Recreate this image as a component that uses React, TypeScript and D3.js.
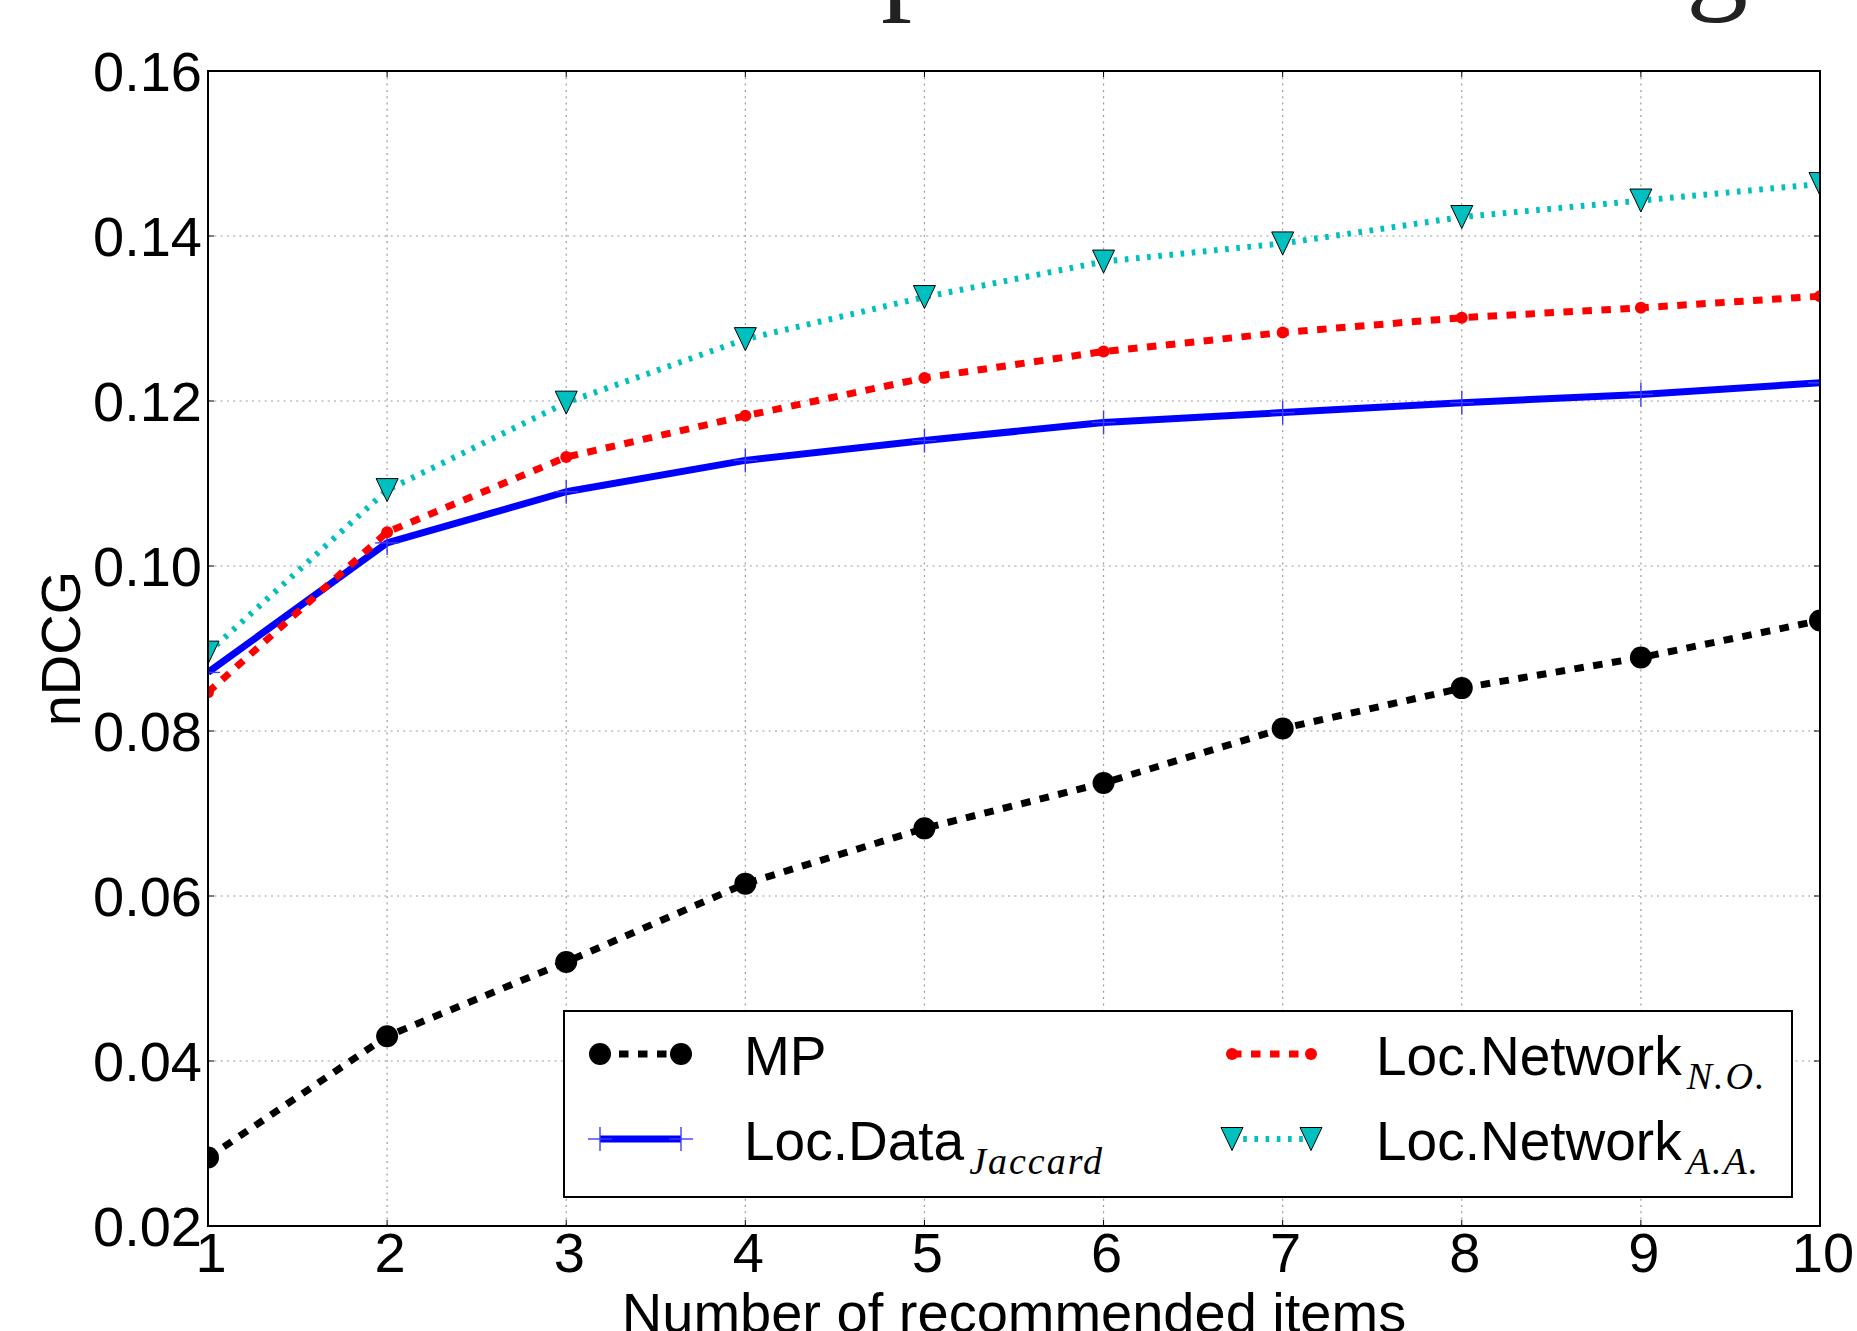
import React from 'react';
import * as d3 from 'd3';

// values
const items = [1, 2, 3, 4, 5, 6, 7, 8, 9, 10];
const mpValues = [0.0283, 0.043, 0.052, 0.0615, 0.0682, 0.0737, 0.0803, 0.0852, 0.0889, 0.0934];
const locDataJaccard = [0.0871, 0.1028, 0.109, 0.1128, 0.1152, 0.1174, 0.1186, 0.1198, 0.1208, 0.1222];
const locNetworkNO = [0.0847, 0.1041, 0.1132, 0.1182, 0.1228, 0.126, 0.1283, 0.1301, 0.1313, 0.1327];
const locNetworkAA = [0.0895, 0.1092, 0.1198, 0.1275, 0.1326, 0.1369, 0.1391, 0.1423, 0.1443, 0.1463];
const yTickValues = [0.02, 0.04, 0.06, 0.08, 0.1, 0.12, 0.14, 0.16];
const xTickValues = [1, 2, 3, 4, 5, 6, 7, 8, 9, 10];

const W = 1857;
const H = 1331;
const margin = { top: 71, right: 37, bottom: 105, left: 208 };
const sans = '"Liberation Sans", Arial, Helvetica, sans-serif';
const serif = '"Liberation Serif", "Times New Roman", serif';

type Series = {
  key: string;
  label: string;
  sub: string;
  values: number[];
  color: string;
  width: number;
  dash: string;
  marker: 'circle' | 'plus' | 'dot' | 'tri';
};

const series: Series[] = [
  { key: 'mp', label: 'MP', sub: '', values: mpValues, color: '#000000', width: 7, dash: '9.5,9.5', marker: 'circle' },
  { key: 'ld', label: 'Loc.Data', sub: 'Jaccard', values: locDataJaccard, color: '#0000ff', width: 7, dash: '', marker: 'plus' },
  { key: 'no', label: 'Loc.Network', sub: 'N.O.', values: locNetworkNO, color: '#ff0000', width: 7, dash: '9.5,9.5', marker: 'dot' },
  { key: 'aa', label: 'Loc.Network', sub: 'A.A.', values: locNetworkAA, color: '#00bfbf', width: 6, dash: '3.6,7.6', marker: 'tri' },
];

function Marker({ kind, x, y, color }: { kind: Series['marker']; x: number; y: number; color: string }) {
  if (kind === 'circle') return <circle cx={x} cy={y} r={11} fill={color} />;
  if (kind === 'dot') return <circle cx={x} cy={y} r={6} fill={color} />;
  if (kind === 'plus')
    return (
      <g stroke="#3c3cff" strokeWidth={1.4}>
        <line x1={x - 12} x2={x + 12} y1={y} y2={y} />
        <line x1={x} x2={x} y1={y - 12} y2={y + 12} />
      </g>
    );
  const pts = [
    [x - 11, y - 11.5],
    [x + 11, y - 11.5],
    [x, y + 11.5],
  ];
  return <polygon points={pts.map((p) => p.join(',')).join(' ')} fill={color} stroke="#000" strokeWidth={1} />;
}

export default function App() {
  const iw = W - margin.left - margin.right;
  const ih = H - margin.top - margin.bottom;
  const x = d3.scaleLinear().domain([1, 10]).range([margin.left, margin.left + iw]);
  const y = d3.scaleLinear().domain([0.02, 0.16]).range([margin.top + ih, margin.top]);
  const line = d3
    .line<number>()
    .x((_, i) => x(items[i]))
    .y((d) => y(d));

  const x0 = margin.left;
  const x1 = margin.left + iw;
  const y0 = margin.top + ih;
  const y1 = margin.top;

  // legend layout
  const lg = { x: 564, y: 1011, w: 1228, h: 186 };
  const rows = [1054, 1139];
  const cols = [
    { m0: 600, m1: 681, tx: 744 },
    { m0: 1232, m1: 1311, tx: 1376 },
  ];

  return (
    <svg
      width={W}
      height={H}
      style={{ position: 'absolute', left: 0, top: 0, display: 'block', background: '#fff' }}
    >
      <defs>
        <clipPath id="plotClip">
          <rect x={x0} y={y1} width={iw} height={ih} />
        </clipPath>
      </defs>
      <rect x={0} y={0} width={W} height={H} fill="#fff" />

      {/* title, cut off at the top of the picture */}
      <g fontFamily={serif} fontSize={124} fill="#222">
        <text x={881} y={-4}>p</text>
        <text x={1686} y={-4}>g</text>
      </g>

      {/* grid */}
      <g stroke="#9a9a9a" strokeWidth={1.2} strokeDasharray="2,4.3">
        {xTickValues.slice(1, -1).map((t) => (
          <line key={'gx' + t} x1={x(t)} x2={x(t)} y1={y1} y2={y0} />
        ))}
        {yTickValues.slice(1, -1).map((t) => (
          <line key={'gy' + t} x1={x0} x2={x1} y1={y(t)} y2={y(t)} />
        ))}
      </g>

      {/* series */}
      <g clipPath="url(#plotClip)">
        {series.map((s) => (
          <g key={s.key}>
            <path
              d={line(s.values) || ''}
              fill="none"
              stroke={s.color}
              strokeWidth={s.width}
              strokeDasharray={s.dash || undefined}
              strokeLinejoin="round"
            />
            {s.values.map((v, i) => (
              <Marker key={i} kind={s.marker} x={x(items[i])} y={y(v)} color={s.color} />
            ))}
          </g>
        ))}
      </g>

      {/* ticks (inward, all sides) */}
      <g stroke="#000" strokeWidth={1}>
        {xTickValues.map((t) => (
          <g key={'tx' + t}>
            <line x1={x(t)} x2={x(t)} y1={y0} y2={y0 - 6} />
            <line x1={x(t)} x2={x(t)} y1={y1} y2={y1 + 6} />
          </g>
        ))}
        {yTickValues.map((t) => (
          <g key={'ty' + t}>
            <line x1={x0} x2={x0 + 6} y1={y(t)} y2={y(t)} />
            <line x1={x1} x2={x1 - 6} y1={y(t)} y2={y(t)} />
          </g>
        ))}
      </g>

      {/* frame */}
      <rect x={x0} y={y1} width={iw} height={ih} fill="none" stroke="#000" strokeWidth={2} />

      {/* tick labels */}
      <g fontFamily={sans} fontSize={56} fill="#000">
        {xTickValues.map((t) => (
          <text key={'lx' + t} x={x(t) + 3} y={1272} textAnchor="middle">
            {t}
          </text>
        ))}
        {yTickValues.map((t) => (
          <text key={'ly' + t} x={202} y={y(t)} dy="0.36em" textAnchor="end">
            {d3.format('.2f')(t)}
          </text>
        ))}
      </g>

      {/* axis titles */}
      <text x={(x0 + x1) / 2} y={1332} textAnchor="middle" fontFamily={sans} fontSize={56} fill="#000">
        Number of recommended items
      </text>
      <text
        transform={`translate(80, ${(y0 + y1) / 2}) rotate(-90)`}
        textAnchor="middle"
        fontFamily={sans}
        fontSize={56}
        fill="#000"
      >
        nDCG
      </text>

      {/* legend */}
      <rect x={lg.x} y={lg.y} width={lg.w} height={lg.h} fill="#fff" stroke="#000" strokeWidth={2} />
      {series.map((s, i) => {
        const c = cols[i < 2 ? 0 : 1];
        const r = rows[i % 2];
        return (
          <g key={'lg' + s.key}>
            <line
              x1={c.m0}
              x2={c.m1}
              y1={r}
              y2={r}
              stroke={s.color}
              strokeWidth={s.width}
              strokeDasharray={s.dash || undefined}
            />
            <Marker kind={s.marker} x={c.m0} y={r} color={s.color} />
            <Marker kind={s.marker} x={c.m1} y={r} color={s.color} />
            <text x={c.tx} y={r + 21} fontFamily={sans} fontSize={55} fill="#000">
              {s.label}
              {s.sub && (
                <tspan dx={5} dy={14} fontFamily={serif} fontStyle="italic" fontSize={38} letterSpacing={2}>
                  {s.sub}
                </tspan>
              )}
            </text>
          </g>
        );
      })}
    </svg>
  );
}
